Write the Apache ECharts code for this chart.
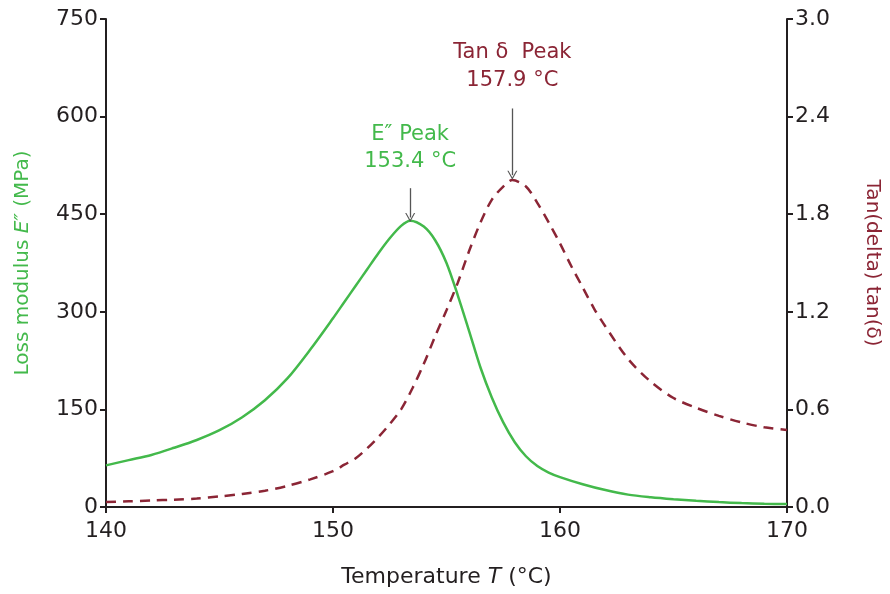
<!DOCTYPE html>
<html>
<head>
<meta charset="utf-8">
<script src="https://cdn.jsdelivr.net/npm/echarts@6/dist/echarts.min.js"></script>
<style>
  html, body { margin: 0; padding: 0; background: #fff; }
  #chart { width: 890px; height: 594px; }
</style>
</head>
<body>
<div id="chart"></div>
<script>
// loss modulus E'' (MPa) vs temperature (°C)
var tempsE = [140, 141, 142, 143, 144, 145, 146, 147, 148, 149, 150, 150.5, 151, 151.5, 152, 152.5, 153, 153.4,
              154, 154.5, 155, 155.5, 156, 156.5, 157, 157.5, 158, 158.5, 159, 159.5, 160,
              161, 162, 163, 164, 165, 166, 167, 168, 169, 170];
var lossModulus = [64, 72, 80, 91, 103, 118, 138, 164, 198, 242, 290, 315, 340, 365, 390, 413, 432, 440,
                   431, 410, 375, 325, 270, 214, 168, 130, 100, 78, 63, 53, 46,
                   35, 26, 19, 15, 12, 9.5, 7.5, 6, 5, 4.5];
// tan delta vs temperature (°C)
var tempsTan = [140, 141, 142, 143, 144, 145, 146, 147, 148, 149, 150, 150.5, 151, 151.5, 152, 152.5, 153, 153.5,
                154, 154.5, 155, 155.5, 156, 156.5, 157, 157.5, 157.9, 158.5, 159, 159.5, 160, 160.5, 161, 161.5,
                162, 163, 164, 165, 166, 167, 168, 169, 170];
var tanDelta = [0.03, 0.035, 0.04, 0.045, 0.052, 0.065, 0.08, 0.10, 0.13, 0.17, 0.22, 0.26, 0.30, 0.36, 0.43, 0.51, 0.60, 0.73,
                0.88, 1.05, 1.21, 1.38, 1.575, 1.75, 1.89, 1.97, 2.01, 1.97, 1.87, 1.75, 1.62, 1.48, 1.35, 1.22,
                1.11, 0.91, 0.77, 0.67, 0.61, 0.56, 0.52, 0.49, 0.473];

var green = '#43b94b';
var maroon = '#8b2535';
var ink = '#231f20';
var font = 'DejaVu Sans';

function pairs(xs, ys) {
    var out = [];
    for (var i = 0; i < xs.length; i++) out.push([xs[i], ys[i]]);
    return out;
}

// thin open chevron, pointing up (rotated by markLine along the line)
var chevron = 'path://M5,0 L10,9 L8.8,9 L5,2.2 L1.2,9 L0,9 Z';

var option = {
    animation: false,
    backgroundColor: '#fff',
    grid: { left: 106, right: 102, top: 19, bottom: 87 },
    xAxis: {
        type: 'value',
        min: 140, max: 170, interval: 10,
        axisLine: { lineStyle: { color: ink, width: 2 } },
        axisTick: { show: true, length: 6, lineStyle: { color: ink, width: 2 } },
        axisLabel: { color: ink, fontFamily: font, fontSize: 22, margin: 13 },
        splitLine: { show: false },
        name: 'Temperature {i|T} (°C)',
        nameLocation: 'middle',
        nameGap: 59,
        nameTextStyle: {
            color: ink, fontFamily: font, fontSize: 22,
            rich: { i: { fontStyle: 'italic', fontFamily: font, fontSize: 22, color: ink } }
        }
    },
    yAxis: [{
        type: 'value',
        position: 'left',
        min: 0, max: 750, interval: 150,
        axisLine: { show: true, lineStyle: { color: ink, width: 2 } },
        axisTick: { show: true, length: 6, lineStyle: { color: ink, width: 2 } },
        axisLabel: { color: ink, fontFamily: font, fontSize: 22, margin: 8 },
        splitLine: { show: false },
        name: 'Loss modulus {i|E″} (MPa)',
        nameLocation: 'middle',
        nameGap: 73,
        nameTextStyle: {
            color: green, fontFamily: font, fontSize: 20,
            rich: { i: { fontStyle: 'italic', fontFamily: font, fontSize: 20, color: green } }
        }
    }, {
        type: 'value',
        position: 'right',
        min: 0, max: 3, interval: 0.6,
        axisLine: { show: true, lineStyle: { color: ink, width: 2 } },
        axisTick: { show: true, length: 6, lineStyle: { color: ink, width: 2 } },
        axisLabel: {
            color: ink, fontFamily: font, fontSize: 22, margin: 8,
            formatter: function (v) { return v.toFixed(1); }
        },
        splitLine: { show: false },
        name: 'Tan(delta) tan(δ)',
        nameLocation: 'middle',
        nameGap: 75,
        nameRotate: -90,
        nameTextStyle: { color: maroon, fontFamily: font, fontSize: 20 }
    }],
    series: [{
        name: 'Loss modulus',
        type: 'line',
        yAxisIndex: 0,
        smooth: 0.3,
        showSymbol: false,
        lineStyle: { color: green, width: 2.5 },
        data: pairs(tempsE, lossModulus),
        markLine: {
            silent: true,
            symbol: ['none', chevron],
            symbolSize: [10, 9],
            lineStyle: { color: '#555', width: 1.3, type: 'solid' },
            label: { show: false },
            data: [[{ coord: [153.4, 490] }, { coord: [153.4, 445] }]]
        },
        markPoint: {
            silent: true,
            symbol: 'circle',
            symbolSize: 0,
            label: {
                show: true, color: green, fontFamily: font, fontSize: 21, lineHeight: 27,
                formatter: 'E″ Peak\n153.4 °C'
            },
            data: [{ coord: [153.4, 552] }]
        }
    }, {
        name: 'Tan delta',
        type: 'line',
        yAxisIndex: 1,
        smooth: 0.3,
        showSymbol: false,
        lineStyle: { color: maroon, width: 2.5, type: [10, 7] },
        data: pairs(tempsTan, tanDelta),
        markLine: {
            silent: true,
            symbol: ['none', chevron],
            symbolSize: [10, 9],
            lineStyle: { color: '#555', width: 1.3, type: 'solid' },
            label: { show: false },
            data: [[{ coord: [157.9, 2.45] }, { coord: [157.9, 2.04] }]]
        },
        markPoint: {
            silent: true,
            symbol: 'circle',
            symbolSize: 0,
            label: {
                show: true, color: maroon, fontFamily: font, fontSize: 21, lineHeight: 28,
                formatter: 'Tan δ  Peak\n157.9 °C'
            },
            data: [{ coord: [157.9, 2.71] }]
        }
    }]
};

var myChart = echarts.init(document.getElementById('chart'), null, { renderer: 'canvas' });
myChart.setOption(option);
</script>
</body>
</html>
